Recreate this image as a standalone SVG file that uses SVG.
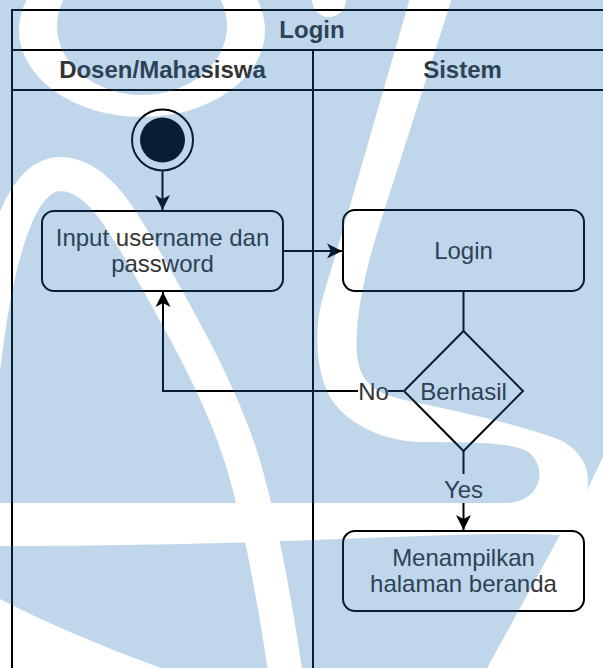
<svg xmlns="http://www.w3.org/2000/svg" width="603" height="668" viewBox="0 0 603 668">
  <defs>
    <style>
      .lane { fill: none; stroke: #000; stroke-width: 2; }
      .node { fill: #fff; stroke: #000; stroke-width: 2; }
      .edge { fill: none; stroke: #000; stroke-width: 2; }
      .lbl-bg { fill: #fff; stroke: none; }
      text { font-family: "Liberation Sans", Arial, Helvetica, sans-serif; font-size: 24px; fill: #333; text-anchor: middle; }
      .hdr { font-weight: bold; }
    </style>
    <marker id="arrow" markerUnits="userSpaceOnUse" markerWidth="16" markerHeight="16" viewBox="-16 -8 16 16" refX="0" refY="0" orient="auto">
      <path d="M0,0 L-15,-7.5 L-11,0 L-15,7.5 Z" fill="#000"/>
    </marker>
    <!-- white strokes of the background logo: black here = no tint -->
    <mask id="logo-cut" maskUnits="userSpaceOnUse" x="0" y="0" width="603" height="668">
      <rect x="0" y="0" width="603" height="668" fill="#fff"/>
      <g fill="#000" stroke="none">
        <path fill-rule="evenodd" d="M19,30 A123,87 0 1 0 265,30 A123,87 0 1 0 19,30 Z M57,26 A85,69 0 1 0 227,26 A85,69 0 1 0 57,26 Z"/>
        <circle cx="329" cy="0" r="17"/>
        <path d="M -22,420 C -8,260 18,172 62,174 C 100,176 125,225 150,268 C 185,330 225,400 245,470 C 262,530 275,600 288,690" fill="none" stroke="#000" stroke-width="34"/>
        <path d="M 410,-2 L 452,-2 L 378,230 C 366,268 354,320 357,355 C 360,385 378,394 405,400 C 450,410 520,424 560,440 C 585,452 592,476 586,492 L 604,455 L 604,672 L 485,672 L 560,535 C 450,530 300,546 -2,546 L -2,503 L 505,503 C 545,503 548,462 525,450 C 505,441 460,443 420,442 C 380,441 345,422 330,397 C 316,372 314,330 322,300 L 343,230 Z"/>
        <path d="M -2,598 C 50,625 110,650 172,672 L -2,672 Z"/>
      </g>
    </mask>
  </defs>

  <rect x="0" y="0" width="603" height="668" fill="#fff"/>

  <!-- swimlane pool -->
  <g id="pool">
    <rect class="lane" x="12" y="10" width="600" height="700"/>
    <line class="lane" x1="12" y1="50" x2="612" y2="50"/>
    <line class="lane" x1="12" y1="90" x2="612" y2="90"/>
    <line class="lane" x1="313" y1="50" x2="313" y2="710"/>
    <text class="hdr" x="312" y="38">Login</text>
    <text class="hdr" x="162.5" y="78">Dosen/Mahasiswa</text>
    <text class="hdr" x="462.5" y="78">Sistem</text>
  </g>

  <!-- connectors -->
  <g id="edges">
    <path class="edge" d="M162.5,171 L162.5,210" marker-end="url(#arrow)"/>
    <path class="edge" d="M283,251 L342,251" marker-end="url(#arrow)"/>
    <path class="edge" d="M463.5,291 L463.5,331"/>
    <path class="edge" d="M403,391 L163,391 L163,292" marker-end="url(#arrow)"/>
    <path class="edge" d="M463.5,451 L463.5,530" marker-end="url(#arrow)"/>
    <rect class="lbl-bg" x="358" y="380" width="30" height="22"/>
    <text x="373.5" y="399.5">No</text>
    <rect class="lbl-bg" x="445" y="474" width="38" height="29"/>
    <text x="463.5" y="498">Yes</text>
  </g>

  <!-- nodes -->
  <g id="start">
    <circle cx="162.5" cy="140" r="30.5" fill="#fff" stroke="#000" stroke-width="2"/>
    <circle cx="162.5" cy="140" r="22.5" fill="#000"/>
  </g>
  <g id="input">
    <rect class="node" x="42" y="211" width="241" height="80" rx="12"/>
    <text x="162.5" y="246">Input username dan</text>
    <text x="162.5" y="272">password</text>
  </g>
  <g id="login">
    <rect class="node" x="343" y="210" width="241" height="81" rx="12"/>
    <text x="463.5" y="259">Login</text>
  </g>
  <g id="decision">
    <polygon class="node" points="463.5,331 523,391 463.5,451 404,391"/>
    <text x="463.5" y="400">Berhasil</text>
  </g>
  <g id="show">
    <rect class="node" x="343" y="531" width="241" height="80" rx="12"/>
    <text x="463.5" y="566">Menampilkan</text>
    <text x="463.5" y="592">halaman beranda</text>
  </g>

  <!-- translucent logo tint over the page -->
  <g id="watermark">
    <rect x="0" y="0" width="603" height="668" fill="#1e6cb4" fill-opacity="0.28" mask="url(#logo-cut)"/>
  </g>
</svg>
